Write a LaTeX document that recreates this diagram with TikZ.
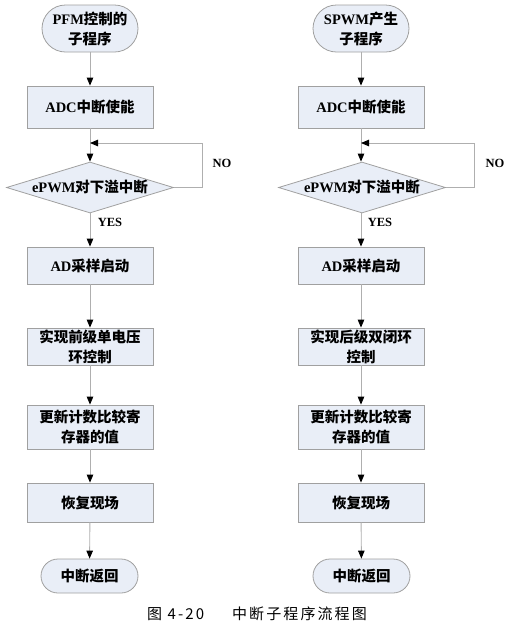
\documentclass[tikz,border=0pt]{standalone}
\usepackage{fontspec}
\setmainfont{Liberation Serif}
\newfontfamily\cjk{Noto Sans CJK SC}
\newfontfamily\capfont[LetterSpace=14]{Noto Sans CJK SC}
\usetikzlibrary{arrows.meta,shapes.geometric}
\newcommand{\C}[1]{{\cjk #1}}
\definecolor{boxfill}{RGB}{233,238,247}
\definecolor{boxline}{RGB}{160,160,160}
\definecolor{conn}{RGB}{175,175,175}
\tikzset{
  x=1pt, y=-1pt,
  base/.style={draw=boxline, fill=boxfill, line width=0.8pt, inner sep=0pt, align=center,
    font=\fontsize{14.5}{20}\selectfont\bfseries},
  procbox/.style={base, rectangle, minimum width=126pt},
  term/.style={base, rectangle, rounded corners=#1, minimum width=96pt},
  decision/.style={base, diamond, minimum width=167pt, minimum height=51pt},
  flow/.style={draw=conn, line width=0.9pt, -{Triangle[length=8pt,width=6.5pt,color=black]}},
  lbl/.style={font=\fontsize{12.5}{14}\selectfont\bfseries, inner sep=0pt}
}
\begin{document}
\begin{tikzpicture}
\useasboundingbox (0,0) rectangle (510,625);
% ---------- left column ----------
\node[term=23.5pt, minimum height=47pt] (s1) at (90,28.5) {PFM\C{控制的}\\\C{子程序}};
\node[procbox, minimum height=42pt] (a1) at (90,107) {ADC\C{中断使能}};
\node[decision] (d1) at (90,187.5) {\makebox[0pt]{ePWM\C{对下溢中断}}};
\node[procbox, minimum height=37pt] (b1) at (90,265.5) {AD\C{采样启动}};
\node[procbox, minimum height=37pt] (c1) at (90,346.5) {\C{实现前级单电压}\\\C{环控制}};
\node[procbox, minimum height=44pt] (u1) at (90,427) {\C{更新计数比较寄}\\\C{存器的值}};
\node[procbox, minimum height=39pt] (r1) at (90,502.5) {\C{恢复现场}};
\node[term=17pt, minimum height=34pt, minimum width=97pt] (e1) at (89.5,576) {\C{中断返回}};
\coordinate (k1) at (202,143);
\node[lbl] (no1) at (222,163) {NO};
\node[lbl] (yes1) at (110,222) {YES};
\draw[flow] (s1) -- (a1);
\draw[flow] (a1) -- (d1);
\draw[flow] (d1.east) -| (k1) -- (a1.south |- k1);
\draw[flow] (d1) -- (b1);
\draw[flow] (b1) -- (c1);
\draw[flow] (c1) -- (u1);
\draw[flow] (u1) -- (r1);
\draw[flow] (r1) -- (e1);
% ---------- right column ----------
\node[term=23.5pt, minimum height=47pt] (s2) at (361,28.5) {SPWM\C{产生}\\\C{子程序}};
\node[procbox, minimum height=42pt] (a2) at (361,107) {ADC\C{中断使能}};
\node[decision] (d2) at (362,187.5) {\makebox[0pt]{ePWM\C{对下溢中断}}};
\node[procbox, minimum height=37pt] (b2) at (361,265.5) {AD\C{采样启动}};
\node[procbox, minimum height=37pt] (c2) at (361,346.5) {\C{实现后级双闭环}\\\C{控制}};
\node[procbox, minimum height=44pt] (u2) at (361,427) {\C{更新计数比较寄}\\\C{存器的值}};
\node[procbox, minimum height=39pt] (r2) at (361,502.5) {\C{恢复现场}};
\node[term=17pt, minimum height=34pt, minimum width=97pt] (e2) at (361.5,576) {\C{中断返回}};
\coordinate (k2) at (474,143);
\node[lbl] (no2) at (495,163) {NO};
\node[lbl] (yes2) at (380,222) {YES};
\draw[flow] (s2) -- (a2);
\draw[flow] (a2) -- (a2.south |- d2.north);
\draw[flow] (d2.east) -| (k2) -- (a2.south |- k2);
\draw[flow] (b2.north |- d2.south) -- (b2);
\draw[flow] (b2) -- (c2);
\draw[flow] (c2) -- (u2);
\draw[flow] (u2) -- (r2);
\draw[flow] (r2) -- (e2);
% ---------- caption ----------
\node[font=\capfont\fontsize{15}{18}\selectfont, inner sep=0pt, anchor=west] (cap) at (147,614) {图 4-20\hspace{28pt}中断子程序流程图};
\end{tikzpicture}
\end{document}
